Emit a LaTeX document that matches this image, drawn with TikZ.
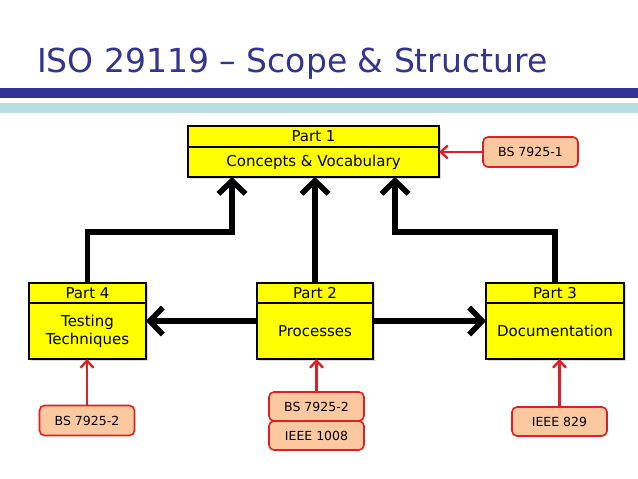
\documentclass[tikz,border=0pt]{standalone}
\usepackage{fontspec}
\setmainfont{DejaVu Sans}
\usepackage{xcolor}
\usetikzlibrary{positioning, arrows.meta, shadows}

\definecolor{titleblue}{RGB}{51,51,145}
\definecolor{barblue}{RGB}{51,51,150}
\definecolor{barcyan}{RGB}{184,222,226}
\definecolor{partyellow}{RGB}{255,255,0}
\definecolor{refpeach}{RGB}{251,200,160}
\definecolor{refred}{RGB}{225,30,35}

\begin{document}
\begin{tikzpicture}[x=1pt, y=-1pt,
  parthead/.style = {shape=rectangle, draw, line width=2.8pt,
    fill=partyellow, inner sep=0pt, outer sep=0pt, minimum height=20pt,
    drop shadow={opacity=0.3, shadow xshift=1.5pt, shadow yshift=-1.5pt},
    font=\fontsize{15}{18}\selectfont},
  partbody/.style = {parthead, align=center},
  refbox/.style = {shape=rectangle, rounded corners=5pt, draw=refred,
    line width=1.6pt, fill=refpeach, inner sep=0pt, outer sep=0pt,
    minimum width=95pt, minimum height=29pt,
    font=\fontsize{12.5}{15}\selectfont},
  bigline/.style = {draw, line width=5.5pt, -{Straight Barb[length=13pt, width=27pt]}},
  redline/.style = {draw=refred, line width=2.4pt, -{Straight Barb[length=7pt, width=13pt]}}
  ]
  \useasboundingbox (0,0) rectangle (638,479);

  % title and bars
  \node[anchor=base west, inner sep=0pt, text=titleblue,
    font=\fontsize{33}{40}\selectfont] (title) at (37,72)
    {ISO 29119 – Scope \& Structure};
  \fill[barblue] (0,88) rectangle (638,98);
  \fill[barcyan] (0,103) rectangle (638,113);

  % parts
  \node[parthead, minimum width=251pt, minimum height=21pt] (p1h) at (313.5,136.5) {Part 1};
  \node[partbody, minimum width=251pt, minimum height=30pt, below=0pt of p1h] (p1) {Concepts \& Vocabulary};

  \node[parthead, minimum width=117pt] (p4h) at (87.5,293) {Part 4};
  \node[partbody, minimum width=117pt, minimum height=56pt, below=0pt of p4h] (p4) {Testing\\Techniques};

  \node[parthead, minimum width=116pt] (p2h) at (315,293) {Part 2};
  \node[partbody, minimum width=116pt, minimum height=56pt, below=0pt of p2h] (p2) {Processes};

  \node[parthead, minimum width=138pt] (p3h) at (555,293) {Part 3};
  \node[partbody, minimum width=138pt, minimum height=56pt, below=0pt of p3h] (p3) {Documentation};

  % standards
  \node[refbox, minimum height=30pt] (bs1) at (530.5,152) {BS 7925-1};
  \node[refbox, minimum height=30pt] (bs4) at (87,420.5) {BS 7925-2};
  \node[refbox] (bs2) at (316.5,406.5) {BS 7925-2};
  \node[refbox, below=0pt of bs2] (ieee2) {IEEE 1008};
  \node[refbox] (ieee3) at (559.5,421.5) {IEEE 829};

  % black connectors
  \coordinate (jl) at (232,232);
  \coordinate (jr) at (395,232);
  \draw[bigline] (p4h.north) |- (jl) -- (jl |- p1.south);
  \draw[bigline] (p2h.north) -- (p2h.north |- p1.south);
  \draw[bigline] (p3h.north) |- (jr) -- (jr |- p1.south);
  \draw[bigline] ([yshift=10pt]p2.west) -- ([yshift=10pt]p2.west -| p4.east);
  \draw[bigline] ([yshift=10pt]p2.east) -- ([yshift=10pt]p2.east -| p3.west);

  % red connectors
  \draw[redline] (bs1) -- (bs1 -| p1.east);
  \draw[redline] (bs4.north) -- (bs4.north |- p4.south);
  \draw[redline] (bs2.north) -- (bs2.north |- p2.south);
  \draw[redline] (ieee3.north) -- (ieee3.north |- p3.south);
\end{tikzpicture}
\end{document}
